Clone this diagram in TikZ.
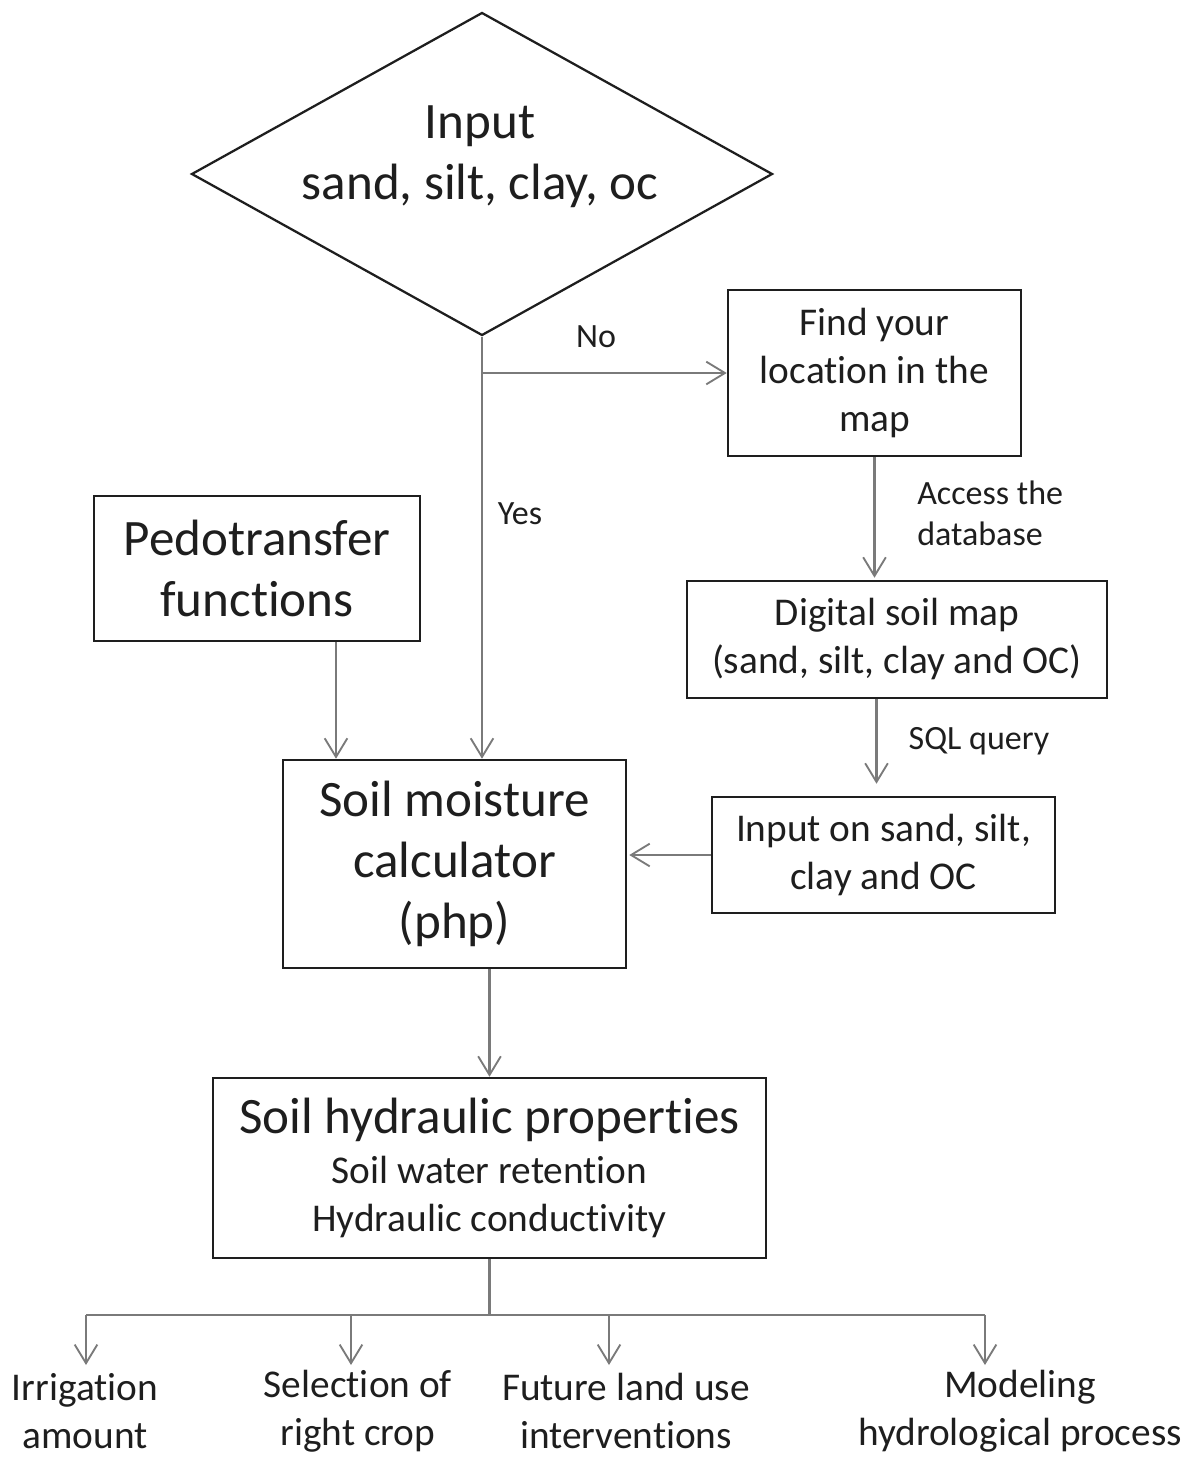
\documentclass[tikz,border=0pt]{standalone}
\usepackage{fontspec}
\setmainfont[Ligatures=NoCommon]{Carlito}
\usetikzlibrary{shapes.geometric,arrows.meta,calc}
\definecolor{ink}{HTML}{1E1E1E}
\definecolor{conn}{HTML}{7A7A7A}
\newcommand{\bigf}{\fontsize{38.3pt}{45.75pt}\selectfont}
\newcommand{\medf}{\fontsize{29.5pt}{36pt}\selectfont}
\newcommand{\smallf}{\fontsize{25.5pt}{31pt}\selectfont}
\begin{document}
\begin{tikzpicture}[x=0.75pt,y=-0.75pt,
  box/.style={draw=ink,line width=1.9pt,rectangle,inner sep=0pt,align=center,text=ink},
  txt/.style={inner sep=0pt,align=center,text=ink},
  conn/.style={draw=conn,line width=1.6pt},
  arr/.style={conn,-{Straight Barb[length=14pt,width=17pt,line width=1.4pt]}}
]
\useasboundingbox (0,0) rectangle (1196,1457);

% decision
\node[draw=ink,line width=1.7pt,diamond,inner sep=0pt,minimum width={581*0.75pt},minimum height={323*0.75pt}] (dia) at (482,174) {};
\node[txt,font=\bigf] (diatext) at (480,157) {Input\\sand, silt, clay, oc};

% boxes
\node[box,font=\medf,minimum width={293*0.75pt},minimum height={166*0.75pt}] (find) at (874.5,373) {Find your\\location in the\\map};
\node[box,font=\medf,minimum width={420*0.75pt},minimum height={117*0.75pt}] (dig) at (897,639.5) {Digital soil map\\(sand, silt, clay and OC)};
\node[box,font=\medf,minimum width={343*0.75pt},minimum height={116*0.75pt}] (inp) at (883.5,855) {Input on sand, silt,\\clay and OC};
\node[box,font=\bigf,minimum width={326*0.75pt},minimum height={145*0.75pt}] (pedo) at (257,568.5) {Pedotransfer\\functions};
\node[box,font=\bigf,minimum width={343*0.75pt},minimum height={208*0.75pt}] (calc) at (454.5,864) {Soil moisture\\calculator\\(php)};
\node[box,font=\medf,minimum width={553*0.75pt},minimum height={180*0.75pt}] (hyd) at (489.5,1168) {{\bigf Soil hydraulic properties}\\[2pt]Soil water retention\\Hydraulic conductivity};

% labels
\node[txt,font=\smallf] (lno) at (596,337) {No};
\node[txt,font=\smallf] (lyes) at (520,514) {Yes};
\node[txt,font=\smallf,align=left,anchor=west] (lacc) at (917,513) {Access the\\database};
\node[txt,font=\smallf] (lsql) at (979,741) {SQL query};

% outputs
\node[txt,font=\medf] (o1) at (85,1411) {Irrigation\\amount};
\node[txt,font=\medf] (o2) at (358,1411) {Selection of\\right crop};
\node[txt,font=\medf] (o3) at (626,1411) {Future land use\\interventions};
\node[txt,font=\medf] (o4) at (1020,1411) {Modeling\\hydrological process};

% connectors
\coordinate (noj) at (dia.south |- find.west);
\draw[arr] (dia.south) -- (dia.south |- calc.north);
\draw[arr] (noj) -- (find.west);
\draw[arr] (find.south) -- ($(find.south |- dig.north)+(0,-2)$);
\draw[arr] ($(find.south |- dig.south)+(2,0)$) -- ($(find.south |- inp.north)+(2,-12)$);
\draw[arr] (inp.west) -- ($(inp.west -| calc.east)+(2,0)$);
\draw[arr] ($(pedo.south)+(79,0)$) -- ($(pedo.south |- calc.north)+(79,0)$);
\draw[arr] (calc.south -| hyd.north) -- (hyd.north);

\coordinate (bj) at ($(hyd.south)+(0,57)$);
\coordinate (b1) at (86,1315);
\coordinate (b2) at (351,1315);
\coordinate (b3) at (609,1315);
\coordinate (b4) at (985,1315);
\draw[conn] (hyd.south) -- (bj);
\draw[conn] (b1) -- (b4);
\draw[arr] (b1) -- (b1 |- 0,1365);
\draw[arr] (b2) -- (b2 |- 0,1365);
\draw[arr] (b3) -- (b3 |- 0,1365);
\draw[arr] (b4) -- (b4 |- 0,1365);
\end{tikzpicture}
\end{document}
